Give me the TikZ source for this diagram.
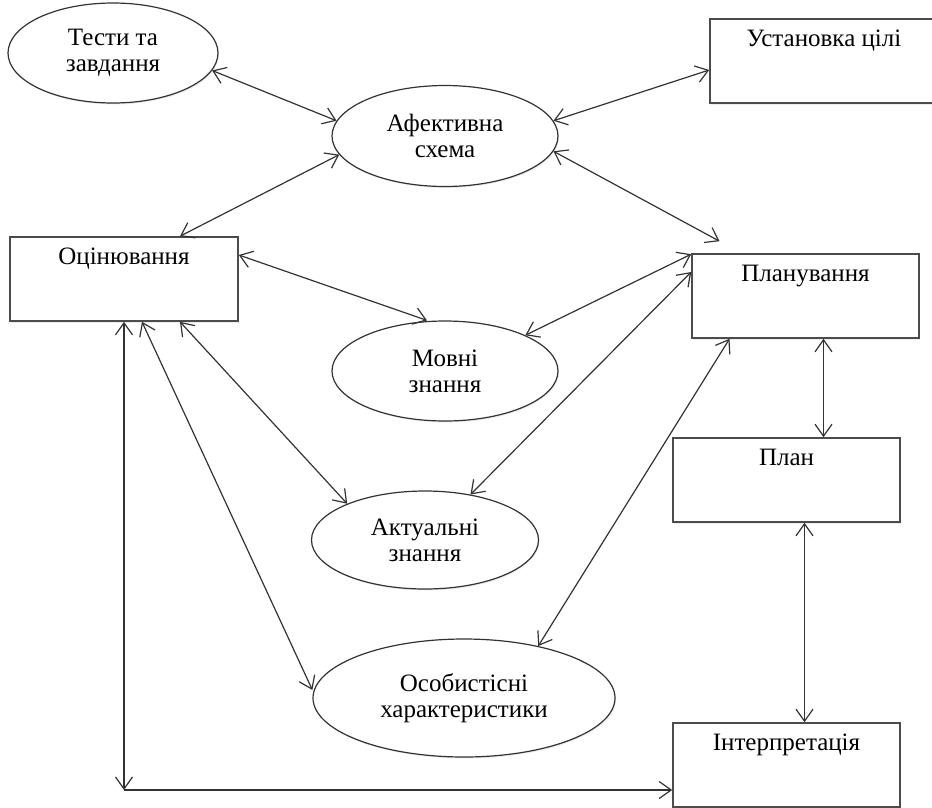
\documentclass[tikz,border=0pt]{standalone}
\usepackage{fontspec}
\setmainfont{Liberation Serif}
\usetikzlibrary{positioning, shapes.geometric, arrows.meta, shadows}

\begin{document}
\begin{tikzpicture}[x=1pt, y=-1pt,
  lbl/.style={font=\fontsize{25}{26}\selectfont, align=center},
  oval/.style={ellipse, draw=black!80, fill=white, line width=1.2pt, inner sep=0pt, lbl,
    drop shadow={opacity=0.15, shadow xshift=1pt, shadow yshift=-1.5pt}},
  box/.style={rectangle, draw=black!70, fill=white, line width=1.6pt,
    minimum width=228pt, minimum height=84pt,
    drop shadow={opacity=0.15, shadow xshift=1pt, shadow yshift=-1.5pt}},
  boxtext/.style={lbl, anchor=base, inner sep=0pt, yshift=-28pt},
  link/.style={black!80, line width=1.2pt, >={Straight Barb[length=12pt, width=17pt]}, <->}]
\useasboundingbox (0,0) rectangle (932,807);
\clip (0,0) rectangle (932,807);

\node[oval, minimum width=210pt, minimum height=100pt] (tests) at (113,53) {Тести та\\завдання};
\node[oval, minimum width=226pt, minimum height=101pt] (afekt) at (445,136) {Афективна\\схема};
\node[oval, minimum width=226pt, minimum height=100pt] (movni) at (445,371) {Мовні\\знання};
\node[oval, minimum width=227pt, minimum height=98pt] (aktual) at (425,540) {Актуальні\\знання};
\node[oval, minimum width=302pt, minimum height=118pt] (osob) at (464,698) {Особистісні\\характеристики};

\node[box, label={[boxtext]north:Установка цілі}] (ustan) at (824,61) {};
\node[box, label={[boxtext]north:Оцінювання}] (ocin) at (124,279) {};
\node[box, minimum width=227pt, label={[boxtext]north:Планування}] (planuv) at (805.5,296) {};
\node[box, minimum width=227pt, label={[boxtext]north:План}] (plan) at (786.5,480) {};
\node[box, minimum width=227pt, label={[boxtext]north:Інтерпретація}] (interp) at (786.5,765) {};

\coordinate (corner) at (124,790);

\draw[link] (tests.-10) -- (afekt.172);
\draw[link] (afekt.190) -- ([xshift=56pt]ocin.north);
\draw[link] (afekt.8) -- ([yshift=-9pt]ustan.west);
\draw[link] (afekt.-8) -- ([xshift=-86pt, yshift=12pt]planuv.north);
\draw[link] ([yshift=24pt]ocin.east) -- ([xshift=-18pt]movni.north);
\draw[link] ([yshift=-1pt]planuv.north west) -- (movni.24);
\draw[link] ([yshift=24pt]planuv.west) -- (aktual.45);
\draw[link] ([xshift=-76pt]planuv.south) -- (osob.35);
\draw[link] ([xshift=56pt]ocin.south) -- (aktual.155);
\draw[link] ([xshift=18pt]ocin.south) -- ([yshift=8pt]osob.west);
\draw[link] (ocin.south) -- (corner);
\draw[link, ->] (corner) -- (corner -| interp.west);
\draw[link] ([xshift=18pt]planuv.south) -- ([xshift=18pt]planuv.south |- plan.north);
\draw[link] ([xshift=18pt]plan.south) -- ([xshift=18pt]plan.south |- interp.north);
\end{tikzpicture}
\end{document}
